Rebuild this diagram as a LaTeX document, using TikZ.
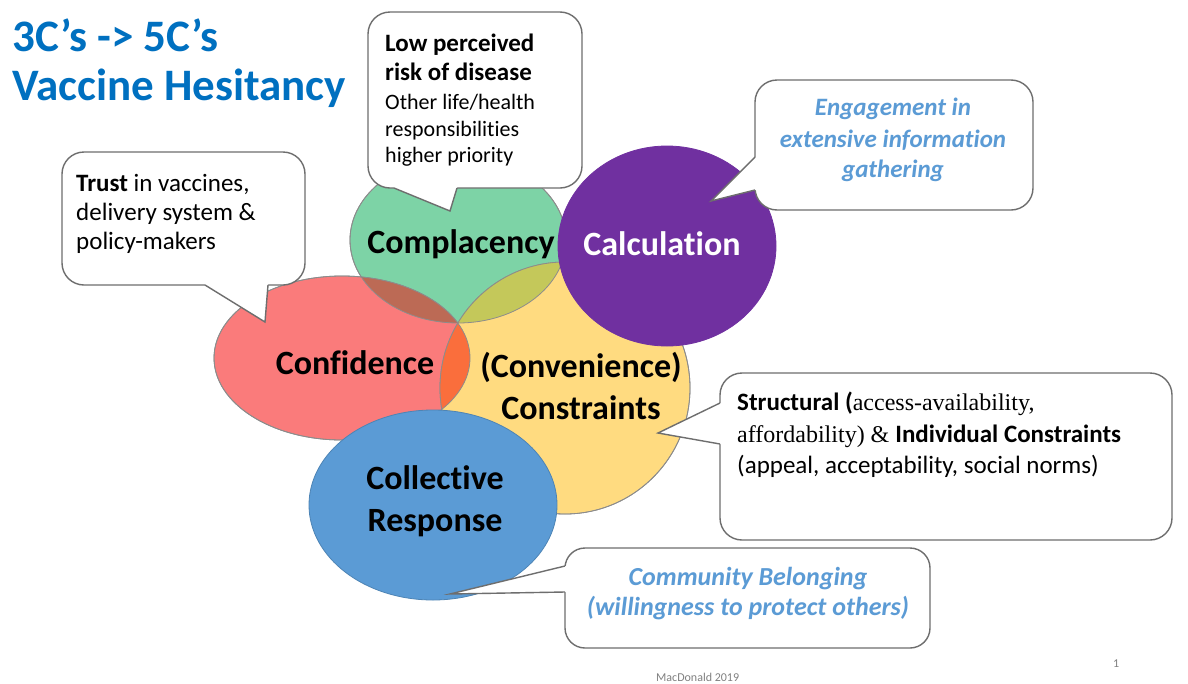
\documentclass[tikz,border=0pt]{standalone}
\usepackage{fontspec}
\setmainfont{Carlito}[Ligatures={NoCommon}]
\newfontfamily\tnr{Liberation Serif}
\usetikzlibrary{shapes.geometric}
\definecolor{cgreen}{RGB}{125,211,166}
\definecolor{cred}{RGB}{250,123,123}
\definecolor{cyellow}{RGB}{255,219,128}
\definecolor{cblue}{RGB}{91,155,213}
\definecolor{cpurple}{RGB}{112,48,160}
\definecolor{lensGR}{RGB}{188,106,85}
\definecolor{lensGY}{RGB}{196,200,90}
\definecolor{lensRY}{RGB}{250,110,60}
\definecolor{titleblue}{RGB}{0,112,192}
\definecolor{lightblue}{RGB}{91,155,213}
\definecolor{boxgray}{RGB}{110,110,110}
\begin{document}
\begin{tikzpicture}[x=1pt,y=-1pt,
  venn/.style={ellipse, inner sep=0pt, draw=black!45, line width=0.8pt},
  vennline/.style={draw=black!45, line width=0.8pt},
  lbl/.style={inner sep=0pt, font=\bfseries\fontsize{34}{42}\selectfont, align=center},
  cbox/.style={rectangle, rounded corners=22pt, draw=boxgray, line width=1.4pt, fill=white, inner sep=0pt},
  ptr/.style={draw=boxgray, line width=1.4pt, line join=miter},
  txt/.style={inner sep=0pt, anchor=base west},
  ctxt/.style={inner sep=0pt, anchor=base},
]
\useasboundingbox (0,0) rectangle (1188,683);
\fill[white] (0,0) rectangle (1188,683);

% ---- ellipses (translucent group) ----
\node[venn, fill=cgreen, minimum width=216pt, minimum height=166pt] (complacency) at (458,240) {};
\node[venn, fill=cred, minimum width=256pt, minimum height=164pt] (confidence) at (342,358) {};
\node[venn, fill=cyellow, minimum width=250pt, minimum height=252pt] (convenience) at (565,388) {};
\begin{scope}
  \clip (458,240) ellipse [x radius=108, y radius=83];
  \fill[lensGR] (342,358) ellipse [x radius=128, y radius=82];
  \fill[lensGY] (565,388) ellipse [x radius=125, y radius=126];
\end{scope}
\begin{scope}
  \clip (342,358) ellipse [x radius=128, y radius=82];
  \fill[lensRY] (565,388) ellipse [x radius=125, y radius=126];
\end{scope}
\draw[vennline] (458,240) ellipse [x radius=108, y radius=83];
\draw[vennline] (342,358) ellipse [x radius=128, y radius=82];
\draw[vennline] (565,388) ellipse [x radius=125, y radius=126];

% ---- opaque ellipses ----
\node[venn, fill=cblue, draw=cblue!85!black, minimum width=248pt, minimum height=190pt] (collective) at (433,505) {};
\node[venn, fill=cpurple, draw=cpurple, minimum width=218pt, minimum height=200pt] (calculation) at (667,246) {};

% ---- ellipse labels ----
\node[lbl] (complacencyT) at (461,244) {Complacency};
\node[lbl, text=white] (calculationT) at (662,244) {Calculation};
\node[lbl] (confidenceT) at (355,363) {Confidence};
\node[lbl] (convenienceT) at (581,386) {(Convenience)\\Constraints};
\node[lbl] (collectiveT) at (435,501) {Collective\\Response};

% ---- title ----
\node[txt, text=titleblue, font=\bfseries\fontsize{45}{52}\selectfont] (title1) at (12,51) {3C’s -> 5C’s};
\node[txt, text=titleblue, font=\bfseries\fontsize{45}{52}\selectfont] (title2) at (12,100) {Vaccine Hesitancy};

% ---- callout: low perceived risk ----
\node[cbox, minimum width=214pt, minimum height=176pt] (riskbox) at (475,100) {};
\coordinate (riskA) at (394,188);
\coordinate (riskTip) at (450,211);
\coordinate (riskB) at (457,188);
\fill[white] (394,184) -- (riskA) -- (riskTip) -- (riskB) -- (457,184) -- cycle;
\draw[ptr] (riskA) -- (riskTip) -- (riskB);
\node[txt, font=\bfseries\fontsize{25}{30}\selectfont] (risk1) at (385,51) {Low perceived};
\node[txt, font=\bfseries\fontsize{25}{30}\selectfont] (risk2) at (385,80) {risk of disease};
\node[txt, font=\fontsize{22}{27}\selectfont] (risk3) at (385,109) {Other life/health};
\node[txt, font=\fontsize{22}{27}\selectfont] (risk4) at (385,136) {responsibilities};
\node[txt, font=\fontsize{22}{27}\selectfont] (risk5) at (385,162) {higher priority};

% ---- callout: trust ----
\node[cbox, minimum width=243pt, minimum height=133pt] (trustbox) at (183.5,218.5) {};
\coordinate (trustA) at (205,285);
\coordinate (trustTip) at (265,322);
\coordinate (trustB) at (268,285);
\fill[white] (205,281) -- (trustA) -- (trustTip) -- (trustB) -- (268,281) -- cycle;
\draw[ptr] (trustA) -- (trustTip) -- (trustB);
\node[txt, font=\fontsize{25}{30}\selectfont] (trust1) at (76,191) {\textbf{Trust} in vaccines,};
\node[txt, font=\fontsize{25}{30}\selectfont] (trust2) at (76,220) {delivery system \&};
\node[txt, font=\fontsize{25}{30}\selectfont] (trust3) at (76,249) {policy-makers};

% ---- callout: engagement ----
\node[cbox, minimum width=278pt, minimum height=130pt] (calcbox) at (894,145) {};
\coordinate (calcA) at (755,157);
\coordinate (calcTip) at (711,201);
\coordinate (calcB) at (755,190);
\fill[white] (759,157) -- (calcA) -- (calcTip) -- (calcB) -- (759,190) -- cycle;
\draw[ptr] (calcA) -- (calcTip) -- (calcB);
\node[ctxt, text=lightblue, font=\bfseries\itshape\fontsize{25}{30}\selectfont] (calc1) at (893,115) {Engagement in};
\node[ctxt, text=lightblue, font=\bfseries\itshape\fontsize{25}{30}\selectfont] (calc2) at (893,147) {extensive information};
\node[ctxt, text=lightblue, font=\bfseries\itshape\fontsize{25}{30}\selectfont] (calc3) at (893,177) {gathering};

% ---- callout: structural ----
\node[cbox, minimum width=452pt, minimum height=167pt] (structbox) at (946,456.5) {};
\coordinate (structA) at (720,403);
\coordinate (structTip) at (658,433);
\coordinate (structB) at (720,444);
\fill[white] (724,403) -- (structA) -- (structTip) -- (structB) -- (724,444) -- cycle;
\draw[ptr] (structA) -- (structTip) -- (structB);
\node[txt, font=\fontsize{25}{30}\selectfont] (struct1) at (737,410) {\textbf{Structural (}{\tnr\fontsize{24}{30}\selectfont access-availability,}};
\node[txt, font=\fontsize{25}{30}\selectfont] (struct2) at (737,442) {{\tnr\fontsize{24}{30}\selectfont affordability) \& }\textbf{Individual Constraints}};
\node[txt, font=\fontsize{25}{30}\selectfont] (struct3) at (737,473) {(appeal, acceptability, social norms)};

% ---- callout: community ----
\node[cbox, minimum width=365pt, minimum height=100pt, rounded corners=20pt] (commbox) at (747.5,598) {};
\coordinate (commA) at (565,566);
\coordinate (commTip) at (450,594);
\coordinate (commB) at (565,592);
\fill[white] (569,566) -- (commA) -- (commTip) -- (commB) -- (569,592) -- cycle;
\draw[ptr] (commA) -- (commTip) -- (commB);
\node[ctxt, text=lightblue, font=\bfseries\itshape\fontsize{26}{30}\selectfont] (comm1) at (748,585) {Community Belonging};
\node[ctxt, text=lightblue, font=\bfseries\itshape\fontsize{26}{30}\selectfont] (comm2) at (748,615) {(willingness to protect others)};

% ---- footer ----
\node[txt, text=black!50, font=\fontsize{12}{14}\selectfont] (credit) at (656,681) {MacDonald 2019};
\node[txt, text=black!50, font=\fontsize{12}{14}\selectfont] (pagenum) at (1113,667) {1};
\end{tikzpicture}
\end{document}
